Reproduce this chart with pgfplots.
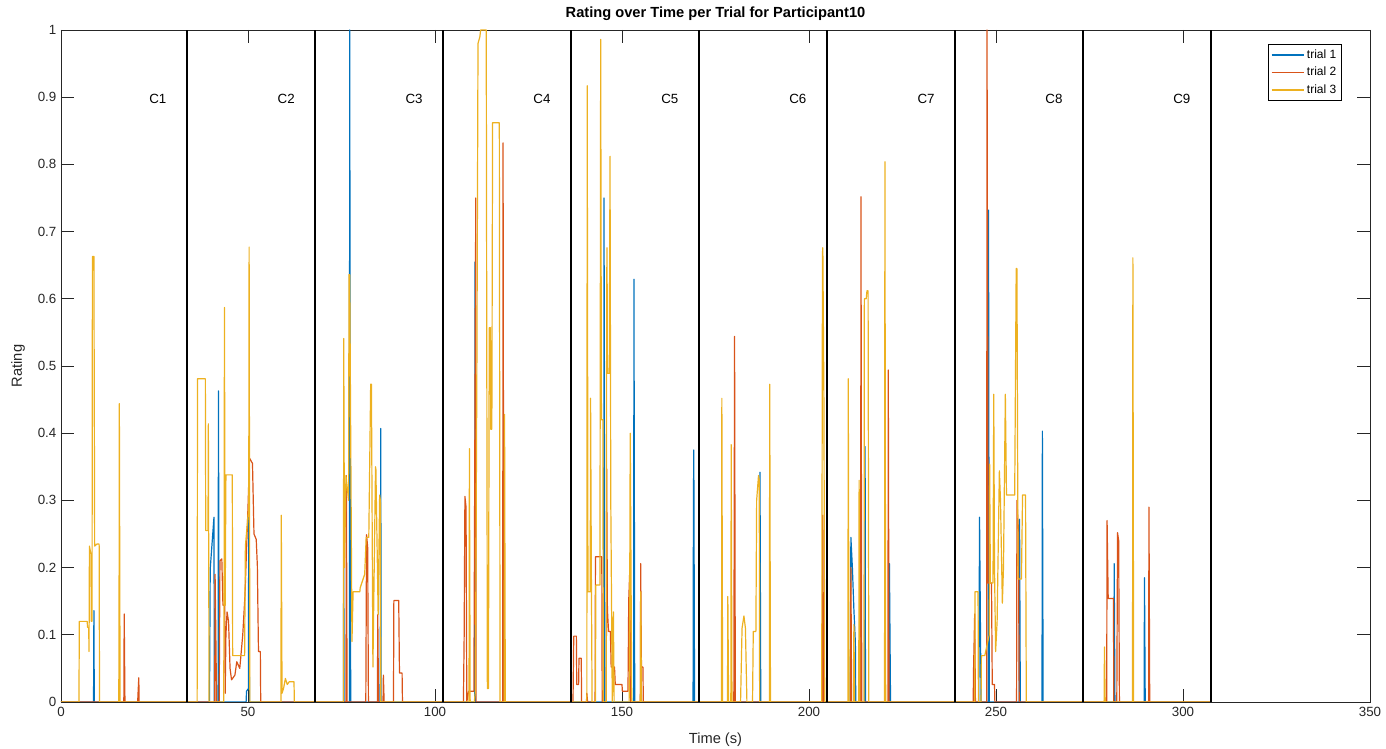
\documentclass[border=0pt]{standalone}
\usepackage{pgfplots}
\pgfplotsset{compat=1.18}
\usepackage{fontspec}
\setmainfont{Liberation Sans}

\definecolor{mblue}{rgb}{0,0.447,0.741}
\definecolor{mred}{rgb}{0.85,0.325,0.098}
\definecolor{myellow}{rgb}{0.929,0.694,0.125}
\definecolor{axgray}{rgb}{0.15,0.15,0.15}

\pgfplotsset{
  trialA/.style={draw=mblue, color=mblue},
  trialB/.style={draw=mred, color=mred},
  trialC/.style={draw=myellow, color=myellow},
}

\begin{document}
\begin{tikzpicture}
\begin{axis}[
  scale only axis,
  width=981.75pt, height=504pt,
  xmin=0, xmax=350, ymin=0, ymax=1,
  xtick={0,50,...,350},
  ytick={0,0.1,...,1},
  yticklabels={0,0.1,0.2,0.3,0.4,0.5,0.6,0.7,0.8,0.9,1},
  tick align=inside,
  xtick pos=both, ytick pos=both,
  xticklabel pos=lower, yticklabel pos=left,
  major tick length=9.5pt,
  tick style={axgray, line width=0.5pt},
  axis line style={axgray, line width=0.6pt},
  /pgf/number format/assume math mode=true,
  tick label style={font=\fontsize{10}{12}\selectfont, text=axgray},
  every axis title shift=0pt,
  title={Rating over Time per Trial for Participant10},
  title style={font=\fontsize{11}{13}\selectfont\bfseries, at={(axis description cs:0.5,1.0238)}, anchor=center},
  xlabel={Time (s)},
  xlabel style={font=\fontsize{11}{13}\selectfont, text=axgray, at={(axis description cs:0.5,-0.0565)}, anchor=center},
  ylabel={Rating},
  ylabel style={font=\fontsize{11}{13}\selectfont, text=axgray, at={(axis description cs:-0.0328,0.5)}, anchor=center, rotate=0},
  legend style={at={(0.9786,0.979)}, anchor=north east, line width=0.5pt,
    font=\fontsize{9}{11}\selectfont, inner sep=2pt, row sep=1pt,
    every matrix/.append style={draw=axgray}},
  legend cell align=left,
  legend image code/.code={\draw[#1, line width=1.1pt] (0pt,0pt) -- (24pt,0pt);},
  every axis plot/.append style={line width=0.9pt, line join=round},
]
% trial 1
\addplot[trialA] coordinates {
(0,0) (8.7,0) (8.8,0.136) (8.9,0)
(39.7,0) (39.9,0.198) (40.9,0.275) (41.0,0) (42.0,0) (42.1,0.463) (42.3,0)
(49.5,0) (49.6,0.016) (50.1,0.02) (50.2,0.293) (50.4,0)
(75.5,0) (75.6,0.239) (75.7,0) (77.1,0) (77.2,1.0) (77.4,0.09) (77.5,0)
(85.3,0) (85.4,0.128) (85.5,0.407) (85.6,0)
(110.6,0) (110.7,0.655) (110.8,0)
(145.1,0) (145.2,0.75) (145.4,0) (153.1,0) (153.2,0.629) (153.4,0)
(169.0,0) (169.1,0.30) (169.2,0.375) (169.4,0)
(186.8,0) (186.9,0.342) (187.1,0)
(211.0,0) (211.2,0.245) (211.6,0.2) (212.0,0.138) (212.4,0.088) (212.5,0)
(214.9,0) (215.0,0.38) (215.1,0) (221.4,0) (221.5,0.206) (221.8,0)
(245.4,0) (245.6,0.275) (246.0,0) (247.9,0) (248.0,0.732) (248.2,0)
(256.2,0) (256.3,0.272) (256.5,0) (262.3,0) (262.4,0.403) (262.6,0)
(281.5,0) (281.6,0.206) (281.8,0) (289.6,0) (289.7,0.185) (289.9,0)
(307.5,0)
};
\addlegendentry{trial 1}
% trial 2
\addplot[trialB] coordinates {
(0,0) (16.8,0) (16.9,0.131) (17.1,0) (20.5,0) (20.6,0.013) (20.8,0.036) (20.9,0)
(41.1,0) (41.2,0.19) (41.4,0.1) (41.6,0) (42.3,0) (42.5,0.21) (43.0,0.213) (43.3,0.144)
(43.8,0.144) (43.9,0.013) (44.1,0.1) (44.4,0.134) (44.8,0.12) (45.2,0.05) (45.6,0.033)
(46.5,0.04) (47.0,0.06) (47.8,0.05) (48.6,0.1) (49.2,0.16) (50.0,0.29) (50.4,0.363)
(51.2,0.355) (51.6,0.25) (52.2,0.242) (52.5,0.203) (52.8,0.075) (53.3,0.075) (53.4,0)
(76.2,0) (76.3,0.337) (76.5,0) (81.5,0) (81.7,0.249) (82.0,0.23) (82.2,0)
(84.6,0) (84.7,0.13) (84.9,0) (86.1,0) (86.2,0.04) (86.4,0)
(88.9,0) (89.0,0.151) (90.3,0.151) (90.5,0.043) (91.2,0.043) (91.3,0)
(107.6,0) (107.8,0.1) (108.0,0.306) (108.3,0.29) (108.5,0) (109.0,0.016) (110.4,0.016)
(110.9,0.75) (111.0,0) (118.1,0) (118.2,0.832) (118.4,0)
(136.9,0) (137.1,0.098) (137.8,0.098) (137.9,0.026) (138.4,0.026) (138.5,0.065)
(139.1,0.065) (139.2,0) (140.5,0) (140.6,0.013) (140.8,0)
(142.8,0) (142.9,0.216) (144.6,0.216) (144.7,0) (145.8,0) (145.9,0.347) (146.1,0.138)
(146.4,0.105) (146.9,0.105) (147.1,0.052) (148.0,0.052) (148.2,0.026) (150.0,0.026)
(150.1,0.016) (151.6,0.016) (151.8,0.151) (152.1,0.2) (152.3,0)
(154.9,0) (155.0,0.206) (155.2,0.052) (155.6,0.052) (155.7,0)
(179.9,0) (180.1,0.544) (180.3,0) (203.5,0) (203.7,0.278) (203.9,0)
(211.1,0) (211.2,0.2) (211.4,0) (213.8,0) (213.9,0.752) (214.1,0)
(221.1,0) (221.2,0.494) (221.4,0)
(243.9,0) (244.0,0.049) (244.3,0.131) (244.5,0) (247.5,0) (247.6,1.0) (247.9,0.177)
(248.8,0.177) (249.0,0.026) (249.6,0.026) (249.7,0)
(255.5,0) (255.6,0.3) (256.0,0.255) (256.2,0)
(279.6,0) (279.7,0.27) (280.0,0.154) (281.4,0.154) (281.5,0)
(282.3,0) (282.5,0.252) (282.8,0.24) (283.0,0) (290.8,0) (290.9,0.29) (291.1,0)
(307.5,0)
};
\addlegendentry{trial 2}
% trial 3
\addplot[trialC] coordinates {
(0,0) (4.8,0) (4.9,0.12) (7.0,0.12) (7.1,0.111) (7.4,0.111) (7.5,0.075) (7.6,0.232)
(8.0,0.22) (8.1,0.12) (8.3,0.12) (8.4,0.663) (8.8,0.663) (9.0,0.232) (9.6,0.235)
(10.2,0.235) (10.3,0) (15.4,0) (15.5,0.05) (15.6,0.444) (15.8,0)
(36.4,0) (36.5,0.481) (38.6,0.481) (38.7,0.255) (39.3,0.255) (39.4,0.414) (39.6,0)
(43.5,0) (43.6,0.144) (43.7,0.587) (43.9,0.144) (44.1,0.338) (45.8,0.338) (45.9,0.069)
(49.1,0.069) (49.3,0.232) (50.2,0.29) (50.3,0.677) (50.5,0)
(58.8,0) (58.9,0.278) (59.1,0.013) (59.5,0.02) (60.0,0.035) (60.5,0.026) (61.0,0.03)
(62.3,0.03) (62.4,0)
(75.5,0) (75.6,0.541) (75.8,0.2) (76.2,0.337) (76.9,0.3) (77.0,0.636) (77.2,0.636)
(77.8,0.09) (78.1,0.164) (79.9,0.164) (80.0,0.17) (80.6,0.18) (81.2,0.19) (81.6,0.245)
(82.3,0.245) (82.8,0.473) (83.0,0.473) (83.4,0.052) (84.1,0.35) (84.2,0.346) (84.8,0.13)
(85.2,0.308) (85.4,0.3) (85.5,0)
(109.1,0) (109.2,0.377) (109.4,0) (110.5,0) (110.8,0.016) (111.2,0.5) (111.5,0.98)
(112.0,0.99) (112.2,1.0) (113.7,1.0) (114.0,0.02) (114.3,0.02) (114.5,0.557) (114.8,0.557)
(114.9,0.406) (115.2,0.406) (115.4,0.862) (117.2,0.862) (117.4,0)
(118.5,0) (118.6,0.428) (118.8,0)
(140.6,0) (140.7,0.917) (140.9,0.164) (141.5,0.164) (141.6,0.452) (141.8,0.2) (142.0,0)
(142.9,0) (143.0,0.174) (144.1,0.174) (144.3,0.986) (144.5,0.42) (144.9,0.42) (145.0,0)
(145.8,0) (145.9,0.62) (146.0,0.676) (146.1,0.489) (146.6,0.489) (146.8,0.812) (147.0,0.3)
(147.4,0) (147.7,0.134) (147.9,0) (151.9,0) (152.0,0.05) (152.2,0.4) (152.4,0.206)
(152.6,0) (154.9,0) (155.0,0.164) (155.2,0)
(176.6,0) (176.7,0.452) (176.9,0) (178.2,0) (178.3,0.157) (178.5,0) (179.1,0) (179.2,0.383)
(179.4,0) (181.7,0) (182.1,0.11) (182.6,0.128) (183.0,0.11) (183.4,0)
(184.9,0) (185.1,0.105) (185.8,0.105) (186.0,0.3) (186.5,0.337) (186.7,0.33) (186.8,0)
(189.4,0) (189.5,0.473) (189.7,0)
(203.4,0) (203.6,0.668) (203.7,0.676) (204.0,0.44) (204.2,0)
(210.4,0) (210.5,0.481) (210.7,0) (211.9,0) (212.0,0.115) (212.2,0) (213.3,0) (213.4,0.33)
(213.6,0) (214.7,0) (214.8,0.6) (215.3,0.6) (215.5,0.612) (215.8,0.612) (216.0,0)
(220.2,0) (220.3,0.804) (220.5,0)
(244.3,0) (244.4,0.164) (245.2,0.164) (245.3,0) (246.0,0) (246.1,0.069) (247.0,0.069)
(248.2,0.1) (248.3,0.354) (248.5,0.177) (249.2,0.177) (249.4,0.458) (249.6,0.2)
(249.9,0.075) (250.3,0.12) (250.9,0.344) (251.2,0.3) (251.7,0.147) (252.0,0.2)
(252.5,0.458) (252.8,0.308) (255.0,0.308) (255.4,0.645) (255.6,0.645) (255.9,0.183)
(256.8,0.183) (257.1,0.308) (257.9,0.308) (258.1,0)
(278.9,0) (279.0,0.082) (279.2,0) (286.5,0) (286.6,0.661) (286.8,0)
(307.5,0)
};
\addlegendentry{trial 3}
% condition boundaries
\addplot[black, line width=2pt, forget plot] coordinates {(33.7,0) (33.7,1)};
\addplot[black, line width=2pt, forget plot] coordinates {(67.9,0) (67.9,1)};
\addplot[black, line width=2pt, forget plot] coordinates {(102.1,0) (102.1,1)};
\addplot[black, line width=2pt, forget plot] coordinates {(136.4,0) (136.4,1)};
\addplot[black, line width=2pt, forget plot] coordinates {(170.6,0) (170.6,1)};
\addplot[black, line width=2pt, forget plot] coordinates {(204.8,0) (204.8,1)};
\addplot[black, line width=2pt, forget plot] coordinates {(239.0,0) (239.0,1)};
\addplot[black, line width=2pt, forget plot] coordinates {(273.3,0) (273.3,1)};
\addplot[black, line width=2pt, forget plot] coordinates {(307.5,0) (307.5,1)};
% condition names
\begin{scope}[every node/.style={font=\fontsize{10}{12}\selectfont}]
\node at (axis cs:25.9,0.897) {C1};
\node at (axis cs:60.2,0.897) {C2};
\node at (axis cs:94.4,0.897) {C3};
\node at (axis cs:128.6,0.897) {C4};
\node at (axis cs:162.8,0.897) {C5};
\node at (axis cs:197.0,0.897) {C6};
\node at (axis cs:231.3,0.897) {C7};
\node at (axis cs:265.5,0.897) {C8};
\node at (axis cs:299.7,0.897) {C9};
\end{scope}
\end{axis}
\pgfresetboundingbox
\useasboundingbox (-45.75pt,-35.25pt) rectangle (993.75pt,526.5pt);
\end{tikzpicture}
\end{document}
